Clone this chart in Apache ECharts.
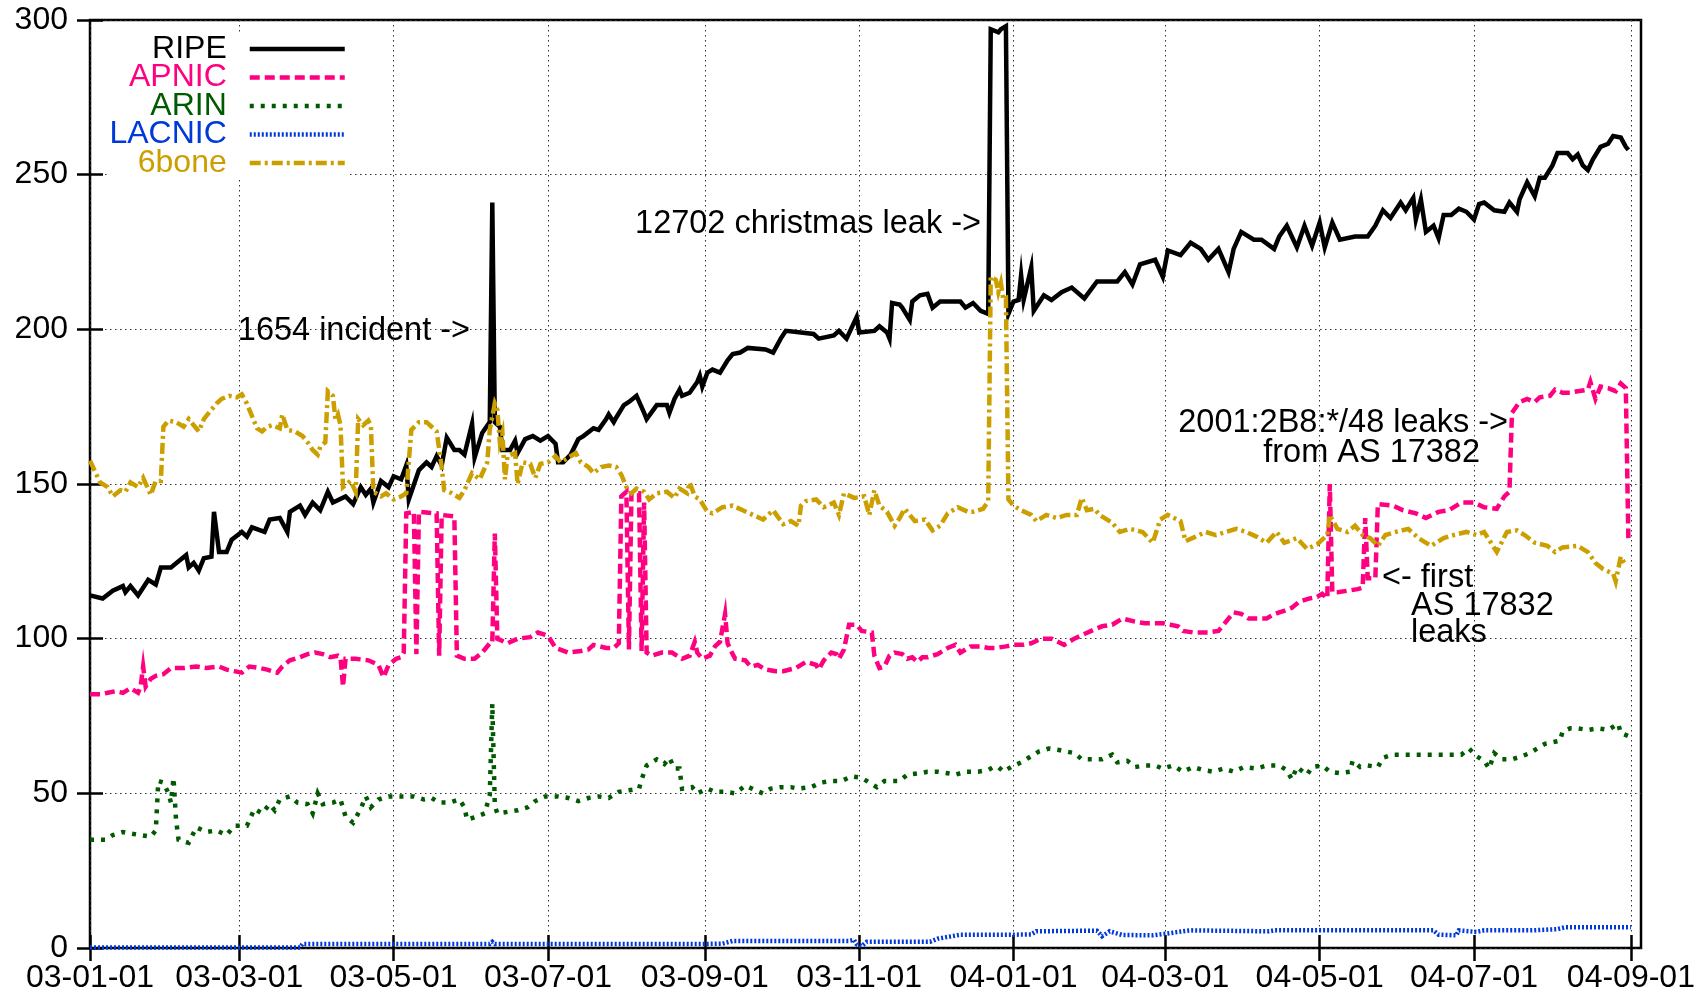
<!DOCTYPE html>
<html>
<head>
<meta charset="utf-8">
<title>IPv6 prefixes seen per registry</title>
<script src="https://cdn.jsdelivr.net/npm/echarts@6/dist/echarts.min.js"></script>
<style>
  html, body { margin: 0; padding: 0; background: #fff; }
  #chart { width: 1704px; height: 994px; }
</style>
</head>
<body>
<div id="chart"></div>
<script>
(function () {
  'use strict';

  // every point is [days since 2003-01-01, prefixes]
  var START = Date.UTC(2003, 0, 1);
  var DAY = 86400000;
  var LAST_DAY = 613;

  var tickLabels = ['03-01-01', '03-03-01', '03-05-01', '03-07-01', '03-09-01', '03-11-01',
    '04-01-01', '04-03-01', '04-05-01', '04-07-01', '04-09-01'];
  var yTicks = { min: 0, max: 300, step: 50 };

  var ripe = [[0,114],[5,113],[9,115.5],[13,117],[14,115],[16,117],[19,114],[23,119],[26,117.5],[28,123],[32,123],[35,125],[38,127],[39,123],[41,124.5],[43,122],[45,126],[48,126.5],[49,141],[51,128],[54,128],[56,132],[60,134.5],[62,133],[64,136],[69,134.5],[71,138.5],[75,139],[78,134.5],[79,141],[83,143],[85,140],[88,144],[91,141.5],[94,147.5],[96,144],[101,146],[104,143.5],[107,149],[109,146.5],[111,148.5],[112,144],[115,151],[118,149],[120,152.5],[123,151.5],[125,156],[126,145],[130,154.5],[133,157],[135,155.5],[137,159],[139,156],[141,165],[144,161],[146,161],[148,159.5],[151,169.5],[152,158.5],[155,166.5],[158,170],[159,241],[160,170],[162,168.5],[163,161],[166,161],[168,164],[169,160],[172,164.5],[175,165.5],[178,164],[181,165.5],[184,163],[185,157],[187,157],[190,159.5],[193,164.5],[195,165.5],[199,168],[201,167.5],[204,171],[205,172.5],[207,170],[208,171.5],[211,175.5],[213,176.5],[216,178.5],[219,173],[220,171],[224,175.5],[228,175.5],[229,173],[231,177.5],[233,180.5],[234,178.5],[237,179.5],[240,183],[241,185],[242,181.5],[244,186],[246,187],[249,186],[252,190],[254,192],[257,192.5],[260,194],[267,193.5],[270,192.5],[273,197],[275,199.5],[281,199],[286,198.5],[288,197],[294,198],[296,199.5],[299,197],[303,204],[304,199],[310,199.5],[312,201],[315,199],[316,197],[317,208.5],[320,208],[321,207],[324,203],[325,209],[328,211],[331,211.5],[333,207],[336,209],[344,209],[346,207],[349,208.5],[352,206],[355,205],[356,297],[359,296],[360,297],[362,298],[363,205],[365,209],[367,209.5],[368,217.5],[369,209.5],[372,220],[373,206],[377,211],[380,209.5],[384,212],[388,213.5],[393,210],[398,215.5],[406,215.5],[409,218.5],[412,214.5],[415,221],[421,222.5],[424,217],[426,225.5],[431,224],[435,228],[439,226],[442,222.5],[446,226],[450,218.5],[452,226],[455,231.5],[460,229],[463,229],[468,226],[470,230],[473,233.5],[477,226.5],[480,233.5],[483,227],[486,234.5],[488,226.5],[491,234.5],[494,229],[500,230],[505,230],[508,233.5],[511,238.5],[514,236],[518,241],[520,238.5],[523,242.5],[524,235.5],[526,242],[528,231.5],[531,233.5],[533,229.5],[535,237],[538,237],[541,239],[544,238],[547,235.5],[549,240.5],[551,241],[555,238.5],[559,238],[561,241],[564,238],[565,242],[568,247.5],[571,243],[573,249],[575,249],[578,253],[580,257],[584,257],[586,255],[588,256.5],[590,253],[592,251.5],[594,255],[597,259],[600,260],[602,262.5],[605,262],[607,259],[608,258]];

  var apnic = [[0,82],[4,82],[7,82.5],[10,83],[13,82.5],[16,84],[19,82.5],[20,84.5],[21,91],[22,84.5],[24,87],[26,88],[29,88.5],[32,90.5],[37,90.5],[42,91],[46,90.5],[51,91],[54,90],[57,89.5],[60,89],[63,91],[67,90.5],[70,90],[74,89],[76,91],[79,93],[83,94],[86,95],[89,95.5],[92,95],[95,94],[98,94.5],[99,94],[100,84.5],[101,93.5],[105,93.5],[110,93],[114,91.5],[116,87.5],[118,91.5],[121,93.5],[123,94],[124,95.5],[125,140.5],[128,141],[129,95],[130,141],[137,140.5],[138,94.5],[139,140],[144,139.5],[145,94.5],[148,93.5],[152,93.5],[155,95.5],[158,98.5],[159,98.5],[160,134],[161,100],[165,98.5],[169,100],[174,100.5],[177,102],[181,101],[184,97],[189,95.5],[194,96],[197,96.5],[199,98],[204,97],[207,97],[209,98.5],[210,146],[212,147.5],[213,96.5],[214,147],[217,147],[218,96],[219,144],[220,95.5],[222,94.5],[226,95.5],[230,95.5],[234,93.5],[237,94.5],[239,99],[240,95.5],[242,93.5],[245,94.5],[247,97.5],[249,99],[251,108],[252,98.5],[254,95],[255,93.5],[259,93],[261,91],[264,91.5],[267,90],[271,89.5],[274,89.5],[279,90.5],[283,92.5],[287,91.5],[288,90],[290,93],[293,95.5],[295,95],[296,93.5],[298,96.5],[300,104.5],[303,104.5],[305,102.5],[309,102],[310,94.5],[312,90.5],[314,91],[316,94.5],[318,95.5],[321,95],[323,93.5],[325,94],[327,92.5],[329,94],[331,94],[335,95],[339,97],[342,98],[344,95.5],[348,97.5],[352,97.5],[355,97],[358,97],[362,97.5],[365,98],[369,98],[372,98.5],[376,100],[380,100],[385,98],[389,100],[393,101.5],[397,103],[400,104],[404,104.5],[408,106.5],[413,105.5],[417,105],[424,105],[427,104.5],[430,104],[432,102.5],[436,102],[442,102],[446,102.5],[449,105.5],[452,108.5],[455,108],[458,106.5],[465,106.5],[467,107.5],[470,108.5],[472,109],[475,110],[478,112],[482,113],[485,113.5],[487,114.5],[489,113],[490,150],[491,115],[493,115],[497,115.5],[501,116],[503,116.5],[504,139],[505,119.5],[508,119.5],[509,143.5],[515,143],[519,141.5],[524,140.5],[528,139],[533,141],[537,141.5],[542,144],[547,144],[551,142.5],[556,142],[559,146],[561,147.5],[562,173],[565,176.5],[568,177.5],[571,176.5],[573,178],[577,178.5],[579,180.5],[582,179.5],[585,179.5],[588,180],[592,180.5],[593,183],[595,177.5],[597,181.5],[600,181],[603,180],[605,182.5],[607,181],[608,132.5]];

  var arin = [[0,35],[6,35],[9,36.5],[13,37.5],[16,37],[20,36.5],[24,36],[26,38],[27,54],[29,53.5],[31,50],[32,47],[33,55],[34,41.5],[35,35],[39,34],[42,39],[46,37.5],[50,38],[54,36.5],[57,39.5],[62,39.5],[65,45],[68,43.5],[71,46.5],[73,44.5],[75,48],[79,49],[82,47],[86,46.5],[88,43.5],[90,50],[92,46.5],[96,47],[99,48],[101,42.5],[104,40.5],[107,45],[109,49],[111,45.5],[114,48],[118,49],[124,49],[128,49],[132,48],[135,48.5],[138,47],[142,47],[146,48],[148,45.5],[149,41.5],[153,42.5],[156,43.5],[158,49.5],[159,79],[160,46],[161,43.5],[165,44],[169,44.5],[173,45.5],[176,47.5],[180,49],[185,49],[189,48.5],[193,47.5],[197,48.5],[201,49],[205,48.5],[209,50.5],[213,51],[217,51.5],[218,54.5],[220,59],[224,61],[227,59.5],[229,61.5],[231,58],[233,58],[234,51.5],[238,52],[240,50],[244,51.5],[247,50.5],[251,50.5],[255,50],[259,52.5],[263,51],[266,50],[269,51.5],[273,52],[277,52],[280,51.5],[285,52],[289,53.5],[293,54],[297,54],[301,55.5],[305,55],[308,53.5],[311,52],[314,54],[320,54],[323,56],[328,56.5],[331,57],[335,57],[339,56.5],[342,56],[346,57],[351,57],[355,57.5],[357,58.5],[359,58.5],[361,57],[364,58.5],[368,60],[371,61.5],[375,63.5],[379,64.5],[383,64],[386,63.5],[389,63],[392,61],[396,61],[400,61],[404,62.5],[406,60],[410,60.5],[413,58.5],[417,59],[421,59],[424,58],[428,59],[432,57],[436,58.5],[440,57.5],[444,57],[448,58],[452,57],[456,58.5],[461,58],[465,59],[470,59],[473,57.5],[475,54.5],[477,58.5],[481,56],[483,58.5],[487,59],[490,57],[494,56.5],[498,57],[499,60.5],[502,58.5],[505,59],[509,58.5],[511,61.5],[515,62.5],[520,62.5],[525,62.5],[532,62.5],[538,62.5],[542,62.5],[545,64.5],[548,62],[551,60.5],[553,58],[555,63],[558,61],[562,61],[566,62],[569,63],[572,64.5],[575,66],[578,66.5],[581,67],[582,70],[585,71],[588,71],[592,70.5],[596,71],[600,70.5],[604,72.5],[605,69.5],[608,68.5]];

  var lacnic = [[0,0.2],[83,0.2],[84,1.3],[158,1.3],[159,2],[160,1.3],[242,1.3],[250,1.4],[254,2.3],[300,2.3],[302,2.6],[303,1.2],[305,0.6],[307,2],[332,2],[335,3],[344,4.3],[365,4.3],[372,4.4],[374,5.4],[398,5.6],[400,3.8],[403,5.4],[408,4.2],[420,4.1],[425,4.6],[432,5.4],[435,5.7],[466,5.4],[468,5.7],[531,5.7],[533,4.3],[540,4.1],[541,5.7],[548,5.2],[551,5.7],[570,5.7],[580,6.1],[583,6.7],[609,6.7]];

  var sixbone = [[0,157.5],[2,154],[4,150.5],[7,149],[9,146],[12,148],[14,147.5],[16,150.5],[19,149],[21,152],[24,146.5],[26,151],[28,151],[29,168.5],[31,170.5],[34,170],[37,168.5],[39,171],[41,169],[43,167],[45,171],[46,172],[48,174],[50,176],[52,177.5],[55,178.5],[58,178],[60,179],[62,176],[64,172],[66,168],[68,167],[70,168.5],[72,169],[75,168],[76,172.5],[78,167.5],[81,167],[84,165.5],[86,163.5],[88,161],[90,159.5],[91,162],[93,163.5],[94,180],[96,178.5],[97,171],[98,172.5],[99,169],[100,149],[103,151],[105,147.5],[106,171],[108,169],[110,170.5],[111,169],[112,147.5],[115,146],[117,147],[120,145],[123,146],[125,147],[127,167.5],[130,170],[133,170],[135,168.5],[137,167],[139,155.5],[140,148],[143,147],[146,145.5],[148,148],[151,153.5],[154,151.5],[157,157],[158,167.5],[160,176],[161,174],[162,163.5],[163,166.5],[164,151.5],[165,159],[168,160],[169,150],[171,157],[174,156.5],[176,152],[178,156.5],[181,157],[184,159],[186,157],[188,158],[192,160],[194,157],[197,155.5],[199,153.5],[202,155.5],[205,156],[208,155.5],[210,153],[212,149],[214,147],[216,148.5],[219,147.5],[221,145],[224,147],[228,147.5],[231,145.5],[233,148.5],[236,147],[237,150.5],[239,146],[241,145],[244,141],[246,140.5],[250,142.5],[254,143],[258,141.5],[262,140],[266,138.5],[270,141.5],[274,137],[277,138],[280,136.5],[281,143],[283,144.5],[287,145],[290,142.5],[294,144],[296,140],[298,147],[302,145.5],[306,146],[308,140],[310,148],[312,143],[315,141],[318,136.5],[320,139],[322,142],[326,138],[330,138.5],[333,135],[336,136.5],[339,140.5],[343,142.5],[347,141],[349,141],[353,142],[355,144.5],[356,217],[358,216],[359,212],[360,215],[361,209.5],[362,210],[363,145],[365,143],[368,141.5],[372,140],[374,138],[378,140],[382,139],[386,140],[390,140],[392,145.5],[394,141.5],[397,142],[399,140],[404,137.5],[407,134.5],[411,135.5],[416,134.5],[420,131],[423,138.5],[426,140],[431,138],[433,131.5],[437,133],[441,134.5],[445,133.5],[449,134.5],[453,135.5],[457,134.5],[461,133],[465,131],[469,134.5],[472,131],[477,132.5],[481,129],[485,130.5],[489,133.5],[490,140],[493,135.5],[497,134.5],[500,136.5],[503,133.5],[506,132.5],[509,130],[512,133.5],[516,134.5],[521,135.5],[525,132.5],[530,130],[535,132.5],[539,133.5],[544,134.5],[548,133.5],[551,134.5],[556,128],[560,134.5],[564,135],[567,133.5],[571,131],[576,130],[579,128],[582,129.5],[588,130],[592,128],[595,124.5],[598,122.5],[602,121],[603,118.5],[605,126.5],[607,123.5]];

  var notes = [
    { text: '1654 incident ->', day: 150, value: 199.6, align: 'right' },
    { text: '12702 christmas leak ->', day: 352, value: 234.1, align: 'right' },
    { text: '2001:2B8:*/48 leaks ->', day: 560.5, value: 169.6, align: 'right' },
    { text: 'from AS 17382', day: 549.4, value: 160.1, align: 'right' },
    { text: '<- first', day: 510.7, value: 119.6, align: 'left' },
    { text: 'AS 17832', day: 522.1, value: 110.6, align: 'left' },
    { text: 'leaks', day: 522.1, value: 101.9, align: 'left' }
  ];

  var FONT = '"Liberation Sans", Arial, Helvetica, sans-serif';

  function labelToDay(label) {
    var parts = label.split('-');
    var t = Date.UTC(2000 + Number(parts[0]), Number(parts[1]) - 1, Number(parts[2]));
    return Math.round((t - START) / DAY);
  }

  var tickDays = tickLabels.map(labelToDay);

  function formatDay(value) {
    var i = tickDays.indexOf(Math.round(value));
    return i >= 0 ? tickLabels[i] : '';
  }

  var gridLine = {
    show: true,
    lineStyle: { color: '#333', width: 1, type: [1.5, 3.5] }
  };

  var tick = {
    show: true,
    inside: true,
    length: 13,
    lineStyle: { color: '#000', width: 2.5 }
  };

  function dayAxis(position, withLabels) {
    return {
      type: 'value',
      position: position,
      min: 0,
      max: LAST_DAY,
      axisLine: { show: false },
      axisTick: Object.assign({ customValues: tickDays }, tick),
      axisLabel: {
        show: withLabels,
        customValues: tickDays,
        formatter: formatDay,
        fontFamily: FONT,
        fontSize: 32,
        color: '#000',
        margin: 14
      },
      splitLine: withLabels ? gridLine : { show: false }
    };
  }

  function valueAxis(position, withLabels) {
    return {
      type: 'value',
      position: position,
      min: yTicks.min,
      max: yTicks.max,
      interval: yTicks.step,
      axisLine: { show: false },
      axisTick: tick,
      axisLabel: {
        show: withLabels,
        fontFamily: FONT,
        fontSize: 32,
        color: '#000',
        margin: 22
      },
      splitLine: withLabels ? gridLine : { show: false }
    };
  }

  function lineSeries(name, points, color, dash) {
    return {
      name: name,
      type: 'line',
      data: points,
      symbol: 'none',
      showSymbol: false,
      smooth: false,
      xAxisIndex: 0,
      yAxisIndex: 0,
      lineStyle: { color: color, width: 4.5, type: dash, cap: 'butt', join: 'miter' },
      itemStyle: { color: color },
      emphasis: { disabled: true }
    };
  }

  var colors = {
    RIPE: '#000000',
    APNIC: '#ff0080',
    ARIN: '#005a00',
    LACNIC: '#0039d9',
    '6bone': '#cc9f00'
  };

  var option = {
    animation: false,
    backgroundColor: '#fff',
    grid: {
      left: 90,
      right: 63,
      top: 20,
      bottom: 44,
      show: true,
      borderColor: '#000',
      borderWidth: 2.5,
      backgroundColor: 'transparent'
    },
    legend: {
      orient: 'vertical',
      align: 'right',
      right: 1357,
      top: 33,
      padding: 0,
      itemGap: -3.5,
      itemWidth: 95,
      itemHeight: 14,
      selectedMode: false,
      backgroundColor: '#fff',
      itemStyle: { opacity: 0, borderWidth: 0 },
      lineStyle: { width: 4.5 },
      textStyle: { fontFamily: FONT, fontSize: 32, lineHeight: 28, padding: [0, 18, 0, 0] },
      data: Object.keys(colors).map(function (name) {
        return { name: name, textStyle: { color: colors[name] } };
      })
    },
    xAxis: [dayAxis('bottom', true), dayAxis('top', false)],
    yAxis: [valueAxis('left', true), valueAxis('right', false)],
    series: [
      lineSeries('RIPE', ripe, colors.RIPE, 'solid'),
      lineSeries('APNIC', apnic, colors.APNIC, [10, 5]),
      lineSeries('ARIN', arin, colors.ARIN, [4, 7]),
      lineSeries('LACNIC', lacnic, colors.LACNIC, [2, 2]),
      lineSeries('6bone', sixbone, colors['6bone'], [11, 4, 3, 4])
    ]
  };

  function placeNotes(chart) {
    var elements = notes.map(function (n) {
      var p = chart.convertToPixel({ xAxisIndex: 0, yAxisIndex: 0 }, [n.day, n.value]);
      return {
        type: 'text',
        x: Math.round(p[0]),
        y: Math.round(p[1]),
        z: 10,
        silent: true,
        style: {
          text: n.text,
          fill: '#000',
          fontFamily: FONT,
          fontSize: 32.5,
          align: n.align,
          textAlign: n.align,
          verticalAlign: 'middle',
          textVerticalAlign: 'middle'
        }
      };
    });
    chart.setOption({ graphic: elements });
  }

  var chart = echarts.init(document.getElementById('chart'), null, { renderer: 'canvas' });
  chart.setOption(option);
  placeNotes(chart);
})();
</script>
</body>
</html>
